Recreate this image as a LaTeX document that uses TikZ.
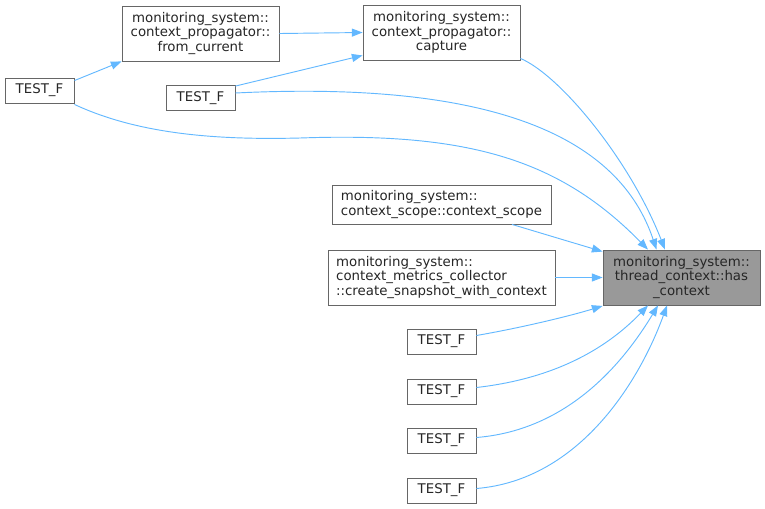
\documentclass[tikz,border=0pt]{standalone}
\usepackage{fontspec}
\setmainfont{DejaVu Sans}
\usetikzlibrary{arrows.meta,calc}
\definecolor{edgecol}{HTML}{63B8FF}
\definecolor{bordcol}{HTML}{666666}
\definecolor{hlcol}{HTML}{999999}
\begin{document}
\begin{tikzpicture}[x=0.75pt,y=-0.75pt,
  font=\fontsize{10}{11}\selectfont,
  box/.style={draw=bordcol,line width=0.65pt,fill=white,inner sep=0pt,align=center,text=black!85},
  leftbox/.style={box,align=left},
  hlbox/.style={box,fill=hlcol},
  small/.style={box,minimum width=51.75pt,minimum height=18.75pt},
  e/.style={draw=edgecol,line width=0.7pt,-{Triangle[length=8pt,width=6pt]}}]
\useasboundingbox (0,0) rectangle (765,508);
% nodes
\node[box,minimum width=117.75pt,minimum height=41.25pt] (fc) at (200.5,33.5)
  {monitoring\_system::\\context\_propagator::\\from\_current};
\node[box,minimum width=117.75pt,minimum height=41.25pt] (cap) at (441.5,32.5)
  {monitoring\_system::\\context\_propagator::\\capture};
\node[small] (tfa) at (39.5,90.5) {TEST\_F};
\node[small] (tfb) at (200.5,98) {TEST\_F};
\node[leftbox,minimum width=164.25pt,minimum height=29.25pt] (cs) at (441.5,204.5)
  {monitoring\_system::\\context\_scope::context\_scope};
\node[leftbox,minimum width=170.25pt,minimum height=41.25pt] (snap) at (441.5,277.5)
  {monitoring\_system::\\context\_metrics\_collector\\::create\_snapshot\_with\_context};
\node[hlbox,minimum width=117.75pt,minimum height=41.25pt] (has) at (681.5,277.5)
  {monitoring\_system::\\thread\_context::has\\\_context};
\node[small] (tfc) at (441.5,341.5) {TEST\_F};
\node[small] (tfd) at (441.5,391.5) {TEST\_F};
\node[small] (tfe) at (441.5,440.5) {TEST\_F};
\node[small] (tff) at (441.5,490.5) {TEST\_F};
% edges
\draw[e] ($(tfa.north east)+(0,3)$) -- (fc.south west);
\draw[e] (fc.east) -- (cap.west);
\draw[e] ($(tfb.north east)+(0,1)$) -- ($(cap.south west)+(0,-5)$);
\draw[e] ($(cap.south east)+(0,-2)$) .. controls (560,75) and (630,160) .. ($(has.north)+(-16.5,0)$);
\draw[e] ($(tfb.east)+(0,-5)$) .. controls (500,80) and (620,140) .. ($(has.north)+(-25,0)$);
\draw[e] ($(tfa.south east)+(0,1)$) .. controls (140,135) and (220,140) .. (300,138)
  .. controls (470,132) and (560,160) .. ($(has.north)+(-33.5,0)$);
\draw[e] ($(cs.south)+(70.5,0)$) -- ($(has.north west)+(0,2)$);
\draw[e] (snap.east) -- (has.west);
\draw[e] ($(tfc.east)+(0,-6)$) .. controls (520,328) and (570,316) .. ($(has.south west)+(0,0.5)$);
\draw[e] ($(tfd.east)+(0,-4)$) .. controls (560,378) and (610,345) .. ($(has.south)+(-33.5,0)$);
\draw[e] ($(tfe.east)+(0,-3)$) .. controls (570,430) and (625,360) .. ($(has.south)+(-23.5,0)$);
\draw[e] ($(tff.east)+(0,-2)$) .. controls (580,480) and (640,380) .. ($(has.south)+(-14.5,0)$);
\end{tikzpicture}
\end{document}
